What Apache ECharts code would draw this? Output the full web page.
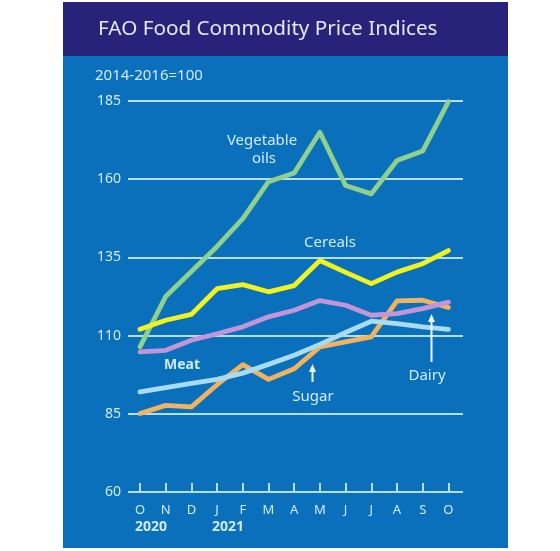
<!DOCTYPE html>
<html><head><meta charset="utf-8">
<script src="https://cdn.jsdelivr.net/npm/echarts@6/dist/echarts.min.js"></script>
<style>html,body{margin:0;padding:0;background:#fff}#c{width:560px;height:551px}</style>
</head><body><div id="c"></div>
<script>
// ---- data ----
const months = ['O','N','D','J','F','M','A','M','J','J','A','S','O'];
const yearLabels = ['2020','2021'];
const vegetableOils = [106.4, 122.5, 130.5, 138.5, 147.4, 159.2, 162.0, 175.0, 158.0, 155.3, 166.0, 169.0, 184.8];
const cereals       = [112.0, 114.9, 116.8, 125.0, 126.3, 124.0, 126.0, 134.0, 130.2, 126.6, 130.3, 133.0, 137.2];
const dairy         = [104.8, 105.3, 108.5, 110.6, 112.8, 116.0, 118.1, 121.2, 119.7, 116.5, 117.0, 118.6, 120.7];
const meat          = [92.0, 93.4, 94.7, 96.0, 98.0, 100.8, 103.7, 107.2, 111.0, 114.6, 113.8, 112.8, 112.0];
const sugar         = [85.1, 87.7, 87.2, 94.3, 100.7, 96.0, 99.4, 106.4, 108.0, 109.6, 121.1, 121.3, 119.0];
const yMin = 60, yMax = 185, yStep = 25;

// ---- styling ----
const FONT = '"Noto Sans", sans-serif';
const TXT = '#d2ebf9';
const GRIDC = '#b6def6';

const chart = echarts.init(document.getElementById('c'), null, {renderer: 'canvas'});

function lineSeries(name, data, color) {
  return {
    name, type: 'line', data, xAxisIndex: 1, yAxisIndex: 1,
    symbol: 'none', smooth: false,
    lineStyle: {color, width: 4.8, cap: 'round', join: 'round'},
    itemStyle: {color}, emphasis: {disabled: true}
  };
}

function arrow(x, yTip, yTail) {
  return [
    {type: 'line', z: 50, shape: {x1: x, y1: yTip + 5, x2: x, y2: yTail}, style: {stroke: '#eef8ff', lineWidth: 2}},
    {type: 'polygon', z: 50, shape: {points: [[x, yTip], [x - 3.5, yTip + 8], [x + 3.5, yTip + 8]]}, style: {fill: '#eef8ff'}}
  ];
}

const option = {
  animation: false,
  backgroundColor: '#ffffff',
  grid: [
    {left: 128, right: 97, top: 101, bottom: 59},
    {left: 140, right: 111.6, top: 101, bottom: 59}
  ],
  xAxis: [
    {gridIndex: 0, type: 'value', min: 0, max: 1, show: false},
    {gridIndex: 1, type: 'category', data: months, boundaryGap: false,
     axisLine: {show: false},
     axisTick: {show: true, inside: true, length: 9, interval: 0, lineStyle: {color: GRIDC, width: 2}},
     axisLabel: {interval: 0, color: TXT, fontSize: 13, margin: 12, fontFamily: FONT},
     splitLine: {show: false}}
  ],
  yAxis: [
    {gridIndex: 0, type: 'value', min: yMin, max: yMax, interval: yStep,
     axisLine: {show: false}, axisTick: {show: false},
     axisLabel: {color: TXT, fontSize: 14, margin: 7, fontFamily: FONT},
     splitLine: {show: true, lineStyle: {color: GRIDC, width: 2}}},
    {gridIndex: 1, type: 'value', min: yMin, max: yMax, interval: yStep, show: false,
     splitLine: {show: false}}
  ],
  series: [
    lineSeries('Sugar', sugar, '#f2b25e'),
    lineSeries('Meat', meat, '#a9dcf2'),
    lineSeries('Dairy', dairy, '#c394d6'),
    lineSeries('Vegetable oils', vegetableOils, '#8fd08c'),
    lineSeries('Cereals', cereals, '#f2f21e')
  ],
  graphic: [
    {type: 'rect', z: -100, silent: true, shape: {x: 63, y: 2, width: 445, height: 546}, style: {fill: '#0b70bc'}},
    {type: 'rect', z: -99, silent: true, shape: {x: 63, y: 2, width: 445, height: 54}, style: {fill: '#27237a'}},
    {type: 'text', z: 50, style: {text: 'FAO Food Commodity Price Indices', x: 98, y: 29, fill: '#e6e6f4', font: '20.7px ' + FONT, textAlign: 'left', textVerticalAlign: 'middle'}},
    {type: 'text', z: 50, style: {text: '2014-2016=100', x: 95, y: 76, fill: TXT, font: '15px ' + FONT, textAlign: 'left', textVerticalAlign: 'middle'}},
    {type: 'text', z: 50, style: {text: yearLabels[0], x: 135, y: 527, fill: TXT, font: 'bold 14px ' + FONT, textAlign: 'left', textVerticalAlign: 'middle'}},
    {type: 'text', z: 50, style: {text: yearLabels[1], x: 212, y: 527, fill: TXT, font: 'bold 14px ' + FONT, textAlign: 'left', textVerticalAlign: 'middle'}},
    {type: 'text', z: 50, style: {text: 'Vegetable', x: 262, y: 141, fill: TXT, font: '15px ' + FONT, textAlign: 'center', textVerticalAlign: 'middle'}},
    {type: 'text', z: 50, style: {text: 'oils', x: 264, y: 159, fill: TXT, font: '15px ' + FONT, textAlign: 'center', textVerticalAlign: 'middle'}},
    {type: 'text', z: 50, style: {text: 'Cereals', x: 330, y: 243, fill: TXT, font: '15px ' + FONT, textAlign: 'center', textVerticalAlign: 'middle'}},
    {type: 'text', z: 50, style: {text: 'Meat', x: 182, y: 365, fill: TXT, font: 'bold 14px ' + FONT, textAlign: 'center', textVerticalAlign: 'middle'}},
    {type: 'text', z: 50, style: {text: 'Sugar', x: 313, y: 397, fill: TXT, font: '15px ' + FONT, textAlign: 'center', textVerticalAlign: 'middle'}},
    {type: 'text', z: 50, style: {text: 'Dairy', x: 427, y: 376, fill: TXT, font: '15px ' + FONT, textAlign: 'center', textVerticalAlign: 'middle'}}
  ].concat(arrow(312.5, 364, 382)).concat(arrow(431.5, 314, 362))
};
chart.setOption(option);
</script>
</body></html>
